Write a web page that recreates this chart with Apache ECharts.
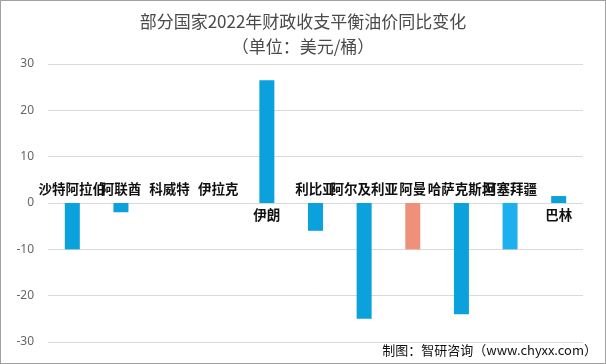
<!DOCTYPE html>
<html><head><meta charset="utf-8">
<script src="https://cdn.jsdelivr.net/npm/echarts@6/dist/echarts.min.js"></script>
<style>html,body{margin:0;padding:0;background:#fff}#c{width:606px;height:364px;box-sizing:border-box;border:1px solid #a0a0a0}</style>
</head><body><div id="c"></div>
<script>
const categories = ['沙特阿拉伯','阿联酋','科威特','伊拉克','伊朗','利比亚','阿尔及利亚','阿曼','哈萨克斯坦','阿塞拜疆','巴林'];
const values = [-10, -2, 0, 0, 26.5, -6, -25, -10, -24, -10, 1.5];
const barColors = ['#0aa1dc','#0aa1dc','#0aa1dc','#0aa1dc','#0aa1dc','#0aa1dc','#0aa1dc','#ef917a','#0aa1dc','#1cb0ee','#0aa1dc'];
const yTicks = [-30, -20, -10, 0, 10, 20, 30];

const chart = echarts.init(document.getElementById('c'));
chart.setOption({
  animation: false,
  title: [{
    text: '部分国家2022年财政收支平衡油价同比变化\n（单位：美元/桶）',
    left: 'center', top: 3,
    textStyle: {fontFamily: 'Noto Sans CJK SC', fontSize: 17, fontWeight: 'normal', color: '#4a4a4a', lineHeight: 25}
  }, {
    text: '制图：智研咨询（www.chyxx.com）',
    right: 3, bottom: 1,
    textStyle: {fontFamily: 'Noto Sans CJK SC', fontSize: 13, fontWeight: 'normal', color: '#111'}
  }],
  grid: {left: 47, right: 22, top: 63, bottom: 21, containLabel: false},
  xAxis: {
    type: 'category', data: categories,
    axisLine: {show: false}, axisTick: {show: false}, axisLabel: {show: false}
  },
  yAxis: {
    type: 'value', min: yTicks[0], max: yTicks[yTicks.length-1], interval: 10,
    axisLine: {show: false}, axisTick: {show: false},
    axisLabel: {color: '#666', fontSize: 12, fontFamily: 'Noto Sans', margin: 14},
    splitLine: {lineStyle: {color: '#d9d9d9', width: 1}}
  },
  series: [{
    type: 'bar', barWidth: 15,
    data: values.map((v, i) => ({
      value: v,
      itemStyle: {color: barColors[i]},
      label: {position: v > 0 ? 'insideBottom' : 'insideTop', offset: [0, v > 0 ? 24 : -26]}
    })),
    label: {
      show: true, formatter: p => categories[p.dataIndex],
      color: '#111', fontSize: 13.5, fontWeight: 'bold', fontFamily: 'Noto Sans CJK SC'
    }
  }]
});
</script></body></html>
